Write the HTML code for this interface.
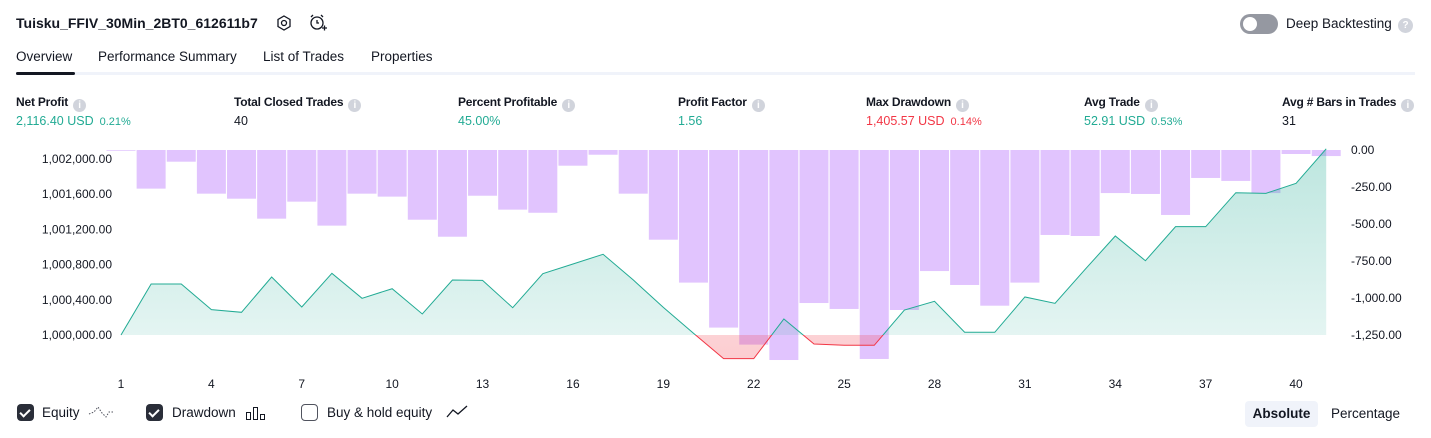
<!DOCTYPE html>
<html><head><meta charset="utf-8">
<style>
body{margin:0;width:1431px;height:438px;background:#fff;font-family:"Liberation Sans",sans-serif;color:#131722;position:relative;overflow:hidden}
.a{position:absolute;white-space:nowrap}
.lbl{font-size:12px;font-weight:bold;letter-spacing:-0.2px}
.val{font-size:12.5px}
.g{color:#22ab94}.r{color:#f23645}
.sm{font-size:11px;margin-left:6px}
.info{display:inline-block;width:13px;height:13px;border-radius:50%;background:#d1d4dc;vertical-align:-2px;margin-left:5px;color:#fff;font-size:10px;text-align:center;line-height:13px;font-weight:bold}
.tab{font-size:13.5px;top:49px}
.cb{width:17px;height:17px;border-radius:4px;background:#2a2e39;top:404px}
.cb.off{background:#fff;border:1.5px solid #50535e;width:15px;height:15px}
.cb:not(.off)::after{content:"";position:absolute;left:5px;top:3px;width:4px;height:8px;border:solid #fff;border-width:0 2px 2px 0;transform:rotate(45deg)}
.leg{font-size:13.5px;top:405px}
</style></head><body>
<div class="a" style="left:16px;top:15px;font-size:14px;font-weight:bold">Tuisku_FFIV_30Min_2BT0_612611b7</div>
<svg class="a" style="left:275px;top:14px" width="18" height="18"><polygon points="9,2 15,5.5 15,12.5 9,16 3,12.5 3,5.5" fill="none" stroke="#131722" stroke-width="1.3"/><circle cx="9" cy="9" r="2.5" fill="none" stroke="#131722" stroke-width="1.3"/></svg>
<svg class="a" style="left:308px;top:13px" width="20" height="20"><circle cx="9" cy="10" r="6" fill="none" stroke="#131722" stroke-width="1.3"/><path d="M9 7v3h2M3 4l2-2M15 4l-2-2M14 15h5M16.5 12.5v5" stroke="#131722" stroke-width="1.3" fill="none"/></svg>
<div class="a" style="left:1240px;top:14px;width:38px;height:20px;border-radius:10px;background:#9598a1"><div style="position:absolute;left:3px;top:3px;width:14px;height:14px;border-radius:50%;background:#fff"></div></div>
<div class="a" style="left:1286px;top:16px;font-size:13.5px">Deep Backtesting</div>
<div class="a info" style="left:1393px;top:18px;width:15px;height:15px;line-height:15px">?</div>
<div class="a tab" style="left:16px">Overview</div>
<div class="a tab" style="left:98px">Performance Summary</div>
<div class="a tab" style="left:263px">List of Trades</div>
<div class="a tab" style="left:371px">Properties</div>
<div class="a" style="left:16px;top:72px;width:1399px;height:3px;background:#f0f3fa"></div>
<div class="a" style="left:16px;top:72px;width:59px;height:3px;border-radius:2px;background:#131722"></div>

<div class="a lbl" style="left:16px;top:95px">Net Profit<span class="info">i</span></div>
<div class="a val g" style="left:16px;top:114px">2,116.40 USD<span class="sm">0.21%</span></div>
<div class="a lbl" style="left:234px;top:95px">Total Closed Trades<span class="info">i</span></div>
<div class="a val" style="left:234px;top:114px">40</div>
<div class="a lbl" style="left:458px;top:95px">Percent Profitable<span class="info">i</span></div>
<div class="a val g" style="left:458px;top:114px">45.00%</div>
<div class="a lbl" style="left:678px;top:95px">Profit Factor<span class="info">i</span></div>
<div class="a val g" style="left:678px;top:114px">1.56</div>
<div class="a lbl" style="left:866px;top:95px">Max Drawdown<span class="info">i</span></div>
<div class="a val r" style="left:866px;top:114px">1,405.57 USD<span class="sm">0.14%</span></div>
<div class="a lbl" style="left:1084px;top:95px">Avg Trade<span class="info">i</span></div>
<div class="a val g" style="left:1084px;top:114px">52.91 USD<span class="sm">0.53%</span></div>
<div class="a lbl" style="left:1282px;top:95px">Avg # Bars in Trades<span class="info">i</span></div>
<div class="a val" style="left:1282px;top:114px">31</div>

<svg id="chart" class="a" style="left:0;top:0" width="1431" height="400"></svg>

<div class="a cb" style="left:17px"></div>
<div class="a leg" style="left:42px">Equity</div>
<svg class="a" style="left:88px;top:404px" width="26" height="16"><path d="M1 10 L6 8 L10 3 L14 9 L18 13 L21 8 L25 8" stroke="#50535e" stroke-dasharray="1.5 1.5" fill="none"/></svg>
<div class="a cb" style="left:146px"></div>
<div class="a leg" style="left:172px">Drawdown</div>
<svg class="a" style="left:245px;top:405px" width="22" height="16"><rect x="1.5" y="7.5" width="4" height="7" fill="none" stroke="#131722"/><rect x="8.5" y="2.5" width="4" height="12" fill="none" stroke="#131722"/><rect x="15.5" y="9.5" width="4" height="5" fill="none" stroke="#131722"/></svg>
<div class="a cb off" style="left:301px"></div>
<div class="a leg" style="left:327px">Buy &amp; hold equity</div>
<svg class="a" style="left:445px;top:404px" width="24" height="16"><path d="M2 13 L8 6 L13 10 L22 2" stroke="#131722" stroke-width="1.3" fill="none"/></svg>
<div class="a" style="left:1245px;top:401px;width:73px;height:26px;border-radius:4px;background:#f0f3fa;font-size:13.5px;font-weight:bold;text-align:center;line-height:26px">Absolute</div>
<div class="a" style="left:1331px;top:406px;font-size:13.5px">Percentage</div>

<script>
const tradeNums=[1,2,3,4,5,6,7,8,9,10,11,12,13,14,15,16,17,18,19,20,21,22,23,24,25,26,27,28,29,30,31,32,33,34,35,36,37,38,39,40,41];
const equity=[1000000,1000580,1000580,1000288,1000258,1000659,1000318,1000701,1000417,1000526,1000239,1000625,1000621,1000310,1000697,1000807,1000917,1000626,1000314,1000020,999731,999731,1000182,999898,999883,999883,1000284,1000383,1000031,1000031,1000432,1000360,1000746,1001125,1000844,1001231,1001231,1001617,1001610,1001723,1002116];
const drawdown=[-5,-261,-79,-295,-329,-464,-349,-511,-295,-315,-471,-586,-309,-403,-424,-106,-32,-295,-606,-896,-1200,-1315,-1419,-1034,-1074,-1412,-1081,-818,-912,-1052,-896,-574,-581,-291,-297,-439,-189,-209,-291,-27,-41];
const leftTicks=[1000000,1000400,1000800,1001200,1001600,1002000];
const rightTicks=[0,-250,-500,-750,-1000,-1250];
const xTicks=[1,4,7,10,13,16,19,22,25,28,31,34,37,40];
const baseEq=1000000;

const NS='http://www.w3.org/2000/svg';
const svg=document.getElementById('chart');
const X=i=>121+(i-1)*30.13;
const YL=v=>335-(v-baseEq)*0.088;
const YR=d=>150-d*0.148;
function mk(tag,attrs,parent){const e=document.createElementNS(NS,tag);for(const k in attrs)e.setAttribute(k,attrs[k]);(parent||svg).appendChild(e);return e;}

const defs=mk('defs',{});
const gg=mk('linearGradient',{id:'gg',x1:0,y1:0,x2:0,y2:1},defs);
mk('stop',{offset:'0','stop-color':'#22ab94','stop-opacity':'0.3'},gg);
mk('stop',{offset:'1','stop-color':'#22ab94','stop-opacity':'0.1'},gg);
const rg=mk('linearGradient',{id:'rg',x1:0,y1:0,x2:0,y2:1},defs);
mk('stop',{offset:'0','stop-color':'#f23645','stop-opacity':'0.03'},rg);
mk('stop',{offset:'1','stop-color':'#f23645','stop-opacity':'0.25'},rg);
const ca=mk('clipPath',{id:'ca'},defs);mk('rect',{x:0,y:0,width:1431,height:YL(baseEq)},ca);
const cbm=mk('clipPath',{id:'cb'},defs);mk('rect',{x:0,y:YL(baseEq),width:1431,height:100},cbm);

drawdown.forEach((d,k)=>{
  const b=mk('rect',{x:X(tradeNums[k])-14.5,y:YR(0),width:29,height:YR(d)-YR(0),fill:'#e1c4fe'});
  
  
});

const pts=equity.map((v,k)=>X(tradeNums[k])+','+YL(v)).join(' ');
const area=pts+' '+X(tradeNums[tradeNums.length-1])+','+YL(baseEq)+' '+X(tradeNums[0])+','+YL(baseEq);
const a1=mk('polygon',{points:area,fill:'url(#gg)','clip-path':'url(#ca)'});


const a2=mk('polygon',{points:area,fill:'url(#rg)','clip-path':'url(#cb)'});


const l1=mk('polyline',{points:pts,fill:'none',stroke:'#22ab94','stroke-width':1,'clip-path':'url(#ca)'});


const l2=mk('polyline',{points:pts,fill:'none',stroke:'#f23645','stroke-width':1,'clip-path':'url(#cb)'});



const fmt=v=>v.toLocaleString('en-US',{minimumFractionDigits:2,maximumFractionDigits:2});
leftTicks.forEach(v=>{
  const t=mk('text',{x:112,y:YL(v)+4,'text-anchor':'end','font-size':12,fill:'#131722','font-family':'Liberation Sans, sans-serif'});
  t.textContent=fmt(v);
  
  
});
rightTicks.forEach(v=>{
  const t=mk('text',{x:1351,y:YR(v)+4,'font-size':12,fill:'#131722','font-family':'Liberation Sans, sans-serif'});
  t.textContent=fmt(v);
  
  
});
xTicks.forEach(v=>{
  const t=mk('text',{x:X(v),y:388,'text-anchor':'middle','font-size':12,fill:'#131722','font-family':'Liberation Sans, sans-serif'});
  t.textContent=v;
  
  
});
</script>
</body></html>
